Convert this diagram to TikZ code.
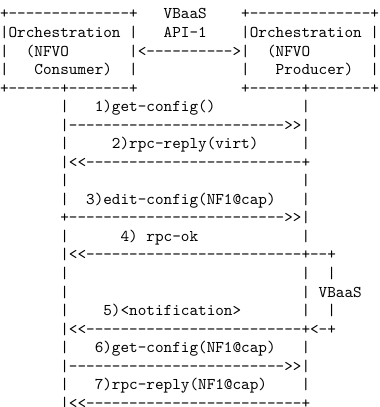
\documentclass[tikz,border=0pt]{standalone}
\usepackage{fontspec}
\usepackage{tikz}
\usetikzlibrary{positioning}

\begin{document}
\begin{tikzpicture}[
    x=5.25pt, y=-11.3pt,
    ch/.style={font=\ttfamily, anchor=base west, inner sep=0pt, outer sep=0pt},
]
\useasboundingbox (0,-0.02) rectangle (44,21.93);
% consumer box
\node[ch] (ctop) at (0,1) {+--------------+};
\node[ch] (corch) at (0,2) {|Orchestration |};
\node[ch] (cl3) at (0,3) {|};
\node[ch] (cnfvo) at (3,3) {(NFVO};
\node[ch] (cl4) at (0,4) {|};
\node[ch] (ccons) at (4,4) {Consumer)};
\node[ch] (cr4) at (15,4) {|};
\node[ch] (cbot) at (0,5) {+------+-------+};

% API between the boxes
\node[ch] (api1) at (19,1) {VBaaS};
\node[ch] (api2) at (19,2) {API-1};
\node[ch] (api) at (15,3) {|<---------->|};

% producer box
\node[ch] (ptop) at (28,1) {+--------------+};
\node[ch] (porch) at (28,2) {|Orchestration |};
\node[ch] (pnfvo) at (31,3) {(NFVO};
\node[ch] (pr3) at (43,3) {|};
\node[ch] (pl4) at (28,4) {|};
\node[ch] (pprod) at (32,4) {Producer)};
\node[ch] (pr4) at (43,4) {|};
\node[ch] (pbot) at (28,5) {+------+-------+};

% lifelines
\foreach \r in {6,8,10,11,13,15,16,17,19,21}
  \node[ch] (cl\r) at (7,\r) {|};
\foreach \r in {6,8,10,11,13,15,16,17,19,21}
  \node[ch] (pl\r) at (35,\r) {|};

% messages
\node[ch] (m1) at (11,6) {1)get-config()};
\node[ch] (a1) at (7,7) {|------------------------->>|};
\node[ch] (m2) at (13,8) {2)rpc-reply(virt)};
\node[ch] (a2) at (7,9) {|<<-------------------------+};
\node[ch] (m3) at (10,11) {3)edit-config(NF1@cap)};
\node[ch] (a3) at (7,12) {+------------------------->>|};
\node[ch] (m4) at (14,13) {4) rpc-ok};
\node[ch] (a4) at (7,14) {|<<-------------------------+--+};
\node[ch] (v15) at (38,15) {|};
\node[ch] (vbaas) at (37,16) {VBaaS};
\node[ch] (v17) at (38,17) {|};
\node[ch] (m5) at (12,17) {5)<notification>};
\node[ch] (a5) at (7,18) {|<<-------------------------+<-+};
\node[ch] (m6) at (11,19) {6)get-config(NF1@cap)};
\node[ch] (a6) at (7,20) {|------------------------->>|};
\node[ch] (m7) at (11,21) {7)rpc-reply(NF1@cap)};
\node[ch] (a7) at (7,22) {|<<-------------------------+};
\end{tikzpicture}
\end{document}
